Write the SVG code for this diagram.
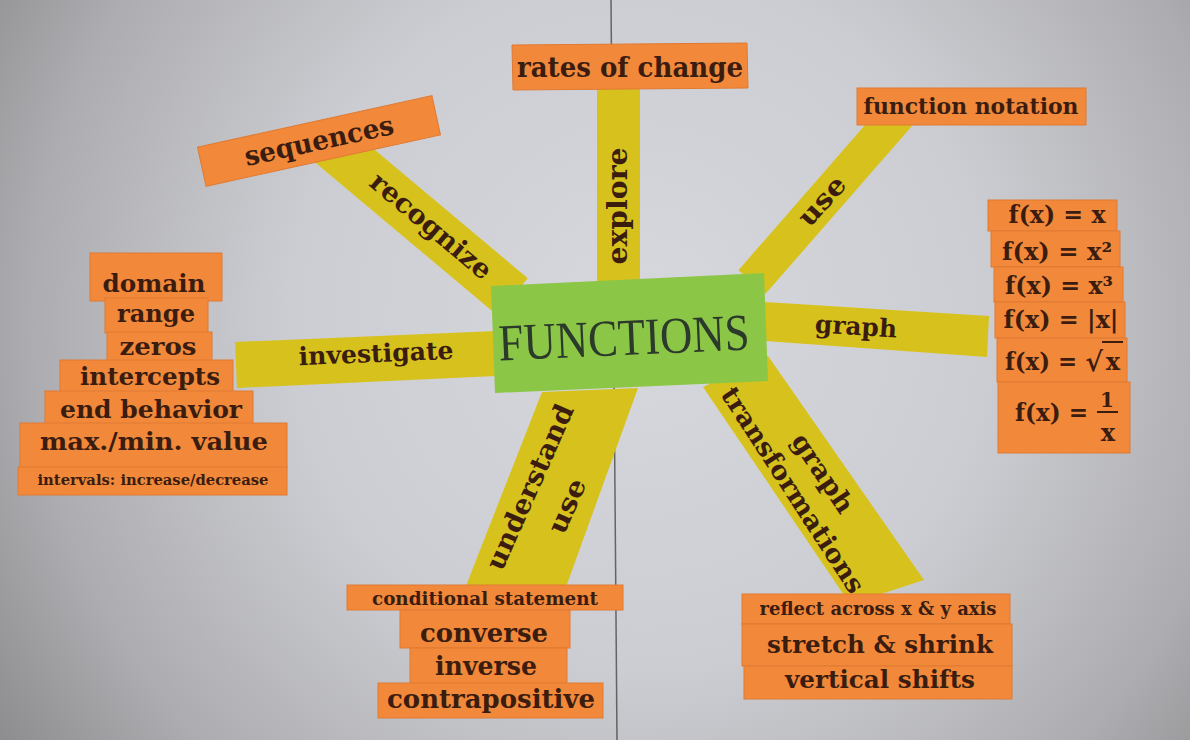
<svg xmlns="http://www.w3.org/2000/svg" width="1190" height="740" viewBox="0 0 1190 740">
<defs>
<radialGradient id="bg" gradientUnits="userSpaceOnUse" cx="640" cy="320" r="780">
<stop offset="0" stop-color="#d7d8dd"/>
<stop offset="0.45" stop-color="#cccdd2"/>
<stop offset="0.78" stop-color="#adadb1"/>
<stop offset="1" stop-color="#8a8a8c"/>
</radialGradient>
<style>
.card{fill:#f2883a;stroke:#e07a32;stroke-width:1}
.strip{fill:#d7c21d}
.t{font-family:"DejaVu Serif","Liberation Serif",serif;font-weight:bold;fill:#3b1d10;text-anchor:middle}
.bar{stroke:#3b1d10;stroke-width:2}
</style>
</defs>
<rect width="1190" height="740" fill="url(#bg)"/>
<line x1="611" y1="0" x2="617" y2="740" stroke="#4a4a4c" stroke-width="1.5" opacity="0.8"/>

<g id="connectors">
<g id="c-explore">
<polygon class="strip" points="597,86 640,86 640,282 597,282"/>
<text class="t" transform="translate(618,206) rotate(-90)" y="9" font-size="27" textLength="117" lengthAdjust="spacingAndGlyphs">explore</text>
</g>
<g id="c-recognize">
<g transform="translate(340,152) rotate(40)">
<rect class="strip" x="-20" y="-24" width="245" height="48"/>
</g>
<text class="t" transform="translate(431,226) rotate(40)" y="9" font-size="27" textLength="150" lengthAdjust="spacingAndGlyphs">recognize</text>
</g>
<g id="c-use">
<g transform="translate(752,282) rotate(-48.9)">
<rect class="strip" x="0" y="-18" width="228" height="36"/>
</g>
<text class="t" transform="translate(822,201) rotate(-48)" y="9" font-size="27" textLength="57" lengthAdjust="spacingAndGlyphs">use</text>
</g>
<g id="c-graph">
<polygon class="strip" points="765,302 989,316 987,357 765,341"/>
<text class="t" transform="translate(856,327) rotate(3.5)" y="8" font-size="25" textLength="82" lengthAdjust="spacingAndGlyphs">graph</text>
</g>
<g id="c-investigate">
<polygon class="strip" points="235,342 496,331 496,376 237,388"/>
<text class="t" transform="translate(376,354) rotate(-2.4)" y="8" font-size="25" textLength="155" lengthAdjust="spacingAndGlyphs">investigate</text>
</g>
<g id="c-understand">
<polygon class="strip" points="542,392 638,388 562,598 462,596"/>
<text class="t" transform="translate(530,487) rotate(-66)" y="9" font-size="27" textLength="178" lengthAdjust="spacingAndGlyphs">understand</text>
<text class="t" transform="translate(567,506) rotate(-66)" y="9" font-size="27" textLength="57" lengthAdjust="spacingAndGlyphs">use</text>
</g>
<g id="c-transform">
<polygon class="strip" points="703,387 768,356 924,580 850,604"/>
<text class="t" transform="translate(823,473) rotate(56)" y="9" font-size="26" textLength="90" lengthAdjust="spacingAndGlyphs">graph</text>
<text class="t" transform="translate(793,490) rotate(57)" y="9" font-size="26" textLength="240" lengthAdjust="spacingAndGlyphs">transformations</text>
</g>
</g>

<g id="functions">
<polygon points="491,286 764,273 768,381 495,393" fill="#8cc646"/>
<text transform="translate(624,338) rotate(-2.5)" y="17" font-family="Liberation Serif, serif" font-size="52" fill="#2b3a2a" text-anchor="middle" textLength="251" lengthAdjust="spacingAndGlyphs">FUNCTIONS</text>
</g>

<g id="rates">
<polygon class="card" points="512,45 747,43 748,88 513,90"/>
<text class="t" x="630" y="77" font-size="27" textLength="226" lengthAdjust="spacingAndGlyphs">rates of change</text>
</g>

<g id="sequences">
<g transform="translate(319,141) rotate(-12.4)">
<rect class="card" x="-120" y="-20" width="240" height="40"/>
<text class="t" x="0" y="9" font-size="27" textLength="152" lengthAdjust="spacingAndGlyphs">sequences</text>
</g>
</g>

<g id="notation">
<rect class="card" x="857" y="88" width="229" height="37"/>
<text class="t" x="971" y="114" font-size="22" textLength="215" lengthAdjust="spacingAndGlyphs">function notation</text>
</g>

<g id="parent-functions">
<rect class="card" x="988" y="200" width="129" height="31"/>
<text class="t" x="1057" y="223" font-size="24" textLength="97" lengthAdjust="spacingAndGlyphs">f(x) = x</text>
<rect class="card" x="991" y="231" width="129" height="36"/>
<text class="t" x="1057" y="260" font-size="24" textLength="110" lengthAdjust="spacingAndGlyphs">f(x) = x²</text>
<rect class="card" x="994" y="267" width="129" height="35"/>
<text class="t" x="1059" y="294" font-size="24" textLength="108" lengthAdjust="spacingAndGlyphs">f(x) = x³</text>
<rect class="card" x="995" y="302" width="130" height="36"/>
<text class="t" x="1061" y="328" font-size="24" textLength="115" lengthAdjust="spacingAndGlyphs">f(x) = |x|</text>
<rect class="card" x="997" y="338" width="130" height="44"/>
<text class="t" x="1005" y="370" font-size="24" style="text-anchor:start" textLength="72" lengthAdjust="spacingAndGlyphs">f(x) =</text>
<text class="t" x="1094" y="371" font-size="27">√</text>
<line class="bar" x1="1102" y1="342" x2="1123" y2="342"/>
<text class="t" x="1113" y="370" font-size="24">x</text>
<rect class="card" x="998" y="382" width="132" height="71"/>
<text class="t" x="1015" y="421" font-size="24" style="text-anchor:start" textLength="73" lengthAdjust="spacingAndGlyphs">f(x) =</text>
<text class="t" x="1107" y="407" font-size="20">1</text>
<line class="bar" x1="1097" y1="412" x2="1118" y2="412"/>
<text class="t" x="1108" y="441" font-size="24">x</text>
</g>

<g id="features">
<rect class="card" x="90" y="253" width="132" height="48"/>
<text class="t" x="154" y="292" font-size="25" textLength="103" lengthAdjust="spacingAndGlyphs">domain</text>
<rect class="card" x="105" y="298" width="103" height="35"/>
<text class="t" x="156" y="322" font-size="25" textLength="78" lengthAdjust="spacingAndGlyphs">range</text>
<rect class="card" x="107" y="332" width="105" height="30"/>
<text class="t" x="158" y="355" font-size="25" textLength="77" lengthAdjust="spacingAndGlyphs">zeros</text>
<rect class="card" x="60" y="360" width="173" height="32"/>
<text class="t" x="150" y="385" font-size="25" textLength="140" lengthAdjust="spacingAndGlyphs">intercepts</text>
<rect class="card" x="45" y="391" width="208" height="33"/>
<text class="t" x="151" y="418" font-size="25" textLength="182" lengthAdjust="spacingAndGlyphs">end behavior</text>
<rect class="card" x="20" y="423" width="267" height="45"/>
<text class="t" x="154" y="450" font-size="25" textLength="228" lengthAdjust="spacingAndGlyphs">max./min. value</text>
<rect class="card" x="18" y="467" width="269" height="28"/>
<text class="t" x="153" y="485" font-size="15" textLength="231" lengthAdjust="spacingAndGlyphs">intervals: increase/decrease</text>
</g>

<g id="logic">
<rect class="card" x="347" y="585" width="276" height="25"/>
<text class="t" x="485" y="605" font-size="18" textLength="226" lengthAdjust="spacingAndGlyphs">conditional statement</text>
<rect class="card" x="400" y="610" width="170" height="38"/>
<text class="t" x="484" y="642" font-size="26" textLength="128" lengthAdjust="spacingAndGlyphs">converse</text>
<rect class="card" x="410" y="648" width="157" height="36"/>
<text class="t" x="486" y="675" font-size="26" textLength="102" lengthAdjust="spacingAndGlyphs">inverse</text>
<rect class="card" x="378" y="683" width="225" height="35"/>
<text class="t" x="491" y="708" font-size="26" textLength="208" lengthAdjust="spacingAndGlyphs">contrapositive</text>
</g>

<g id="transformations">
<rect class="card" x="742" y="594" width="268" height="30"/>
<text class="t" x="878" y="615" font-size="18" textLength="237" lengthAdjust="spacingAndGlyphs">reflect across x &amp; y axis</text>
<rect class="card" x="742" y="624" width="270" height="42"/>
<text class="t" x="880" y="653" font-size="25" textLength="226" lengthAdjust="spacingAndGlyphs">stretch &amp; shrink</text>
<rect class="card" x="744" y="666" width="268" height="33"/>
<text class="t" x="880" y="688" font-size="25" textLength="190" lengthAdjust="spacingAndGlyphs">vertical shifts</text>
</g>
</svg>
